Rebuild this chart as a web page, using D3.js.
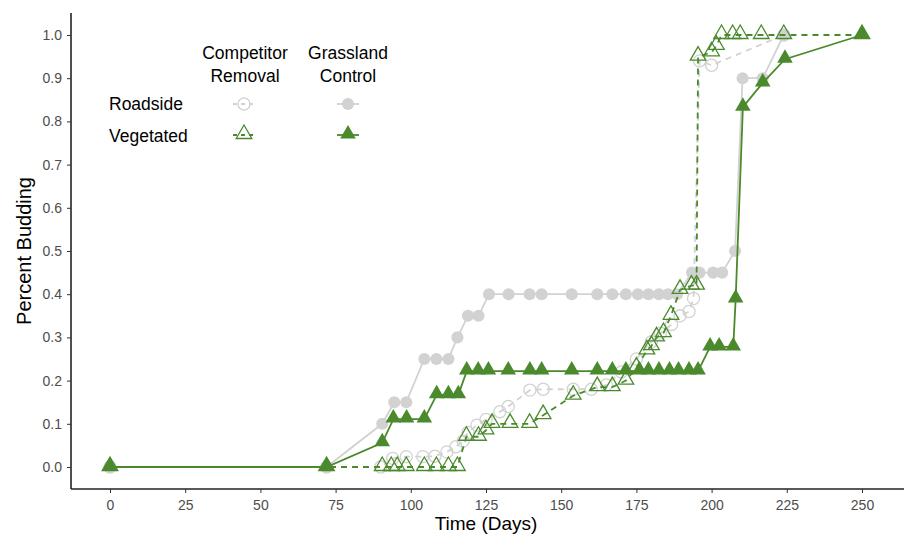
<!DOCTYPE html>
<html>
<head>
<meta charset="utf-8">
<script src="https://cdn.jsdelivr.net/npm/d3@7"></script>
<style>
  body { margin: 0; background: #fff; }
  text { font-family: "Liberation Sans", Arial, sans-serif; }
</style>
</head>
<body>
<svg id="chart" width="904" height="536" viewBox="0 0 904 536"></svg>
<script>
// days / percent budding
const roadsideRemovalDays = [0, 72, 90, 94, 98.5, 104, 108, 112, 115, 117.4, 119, 122, 125, 129.6, 132.4, 139.6, 144, 154, 160, 165, 170, 175, 180, 183, 186.7, 189.5, 192.5, 194, 196, 200, 224]
const roadsideRemovalVals = [0, 0, 0, 0.02, 0.024, 0.024, 0.025, 0.035, 0.047, 0.06, 0.08, 0.097, 0.11, 0.128, 0.14, 0.178, 0.18, 0.18, 0.18, 0.19, 0.22, 0.25, 0.29, 0.31, 0.33, 0.35, 0.36, 0.39, 0.94, 0.93, 1.0]

const roadsideControlDays = [0, 72, 90.5, 94.5, 98.5, 104.5, 108.5, 112.5, 115.5, 119, 122.5, 126, 132.5, 139.5, 143.5, 153.5, 162, 167, 171.5, 175.5, 179, 182.5, 185.5, 188.5, 193.5, 196, 200.5, 203.5, 207.8, 210.3, 217, 224]
const roadsideControlVals = [0, 0, 0.1, 0.15, 0.15, 0.25, 0.25, 0.25, 0.3, 0.35, 0.35, 0.4, 0.4, 0.4, 0.4, 0.4, 0.4, 0.4, 0.4, 0.4, 0.4, 0.4, 0.4, 0.4, 0.45, 0.45, 0.45, 0.45, 0.5, 0.9, 0.9, 1.0]

const vegetatedRemovalDays = [0, 72, 90.5, 93.5, 95.5, 98.5, 104.5, 108.5, 112.5, 115.5, 118.5, 122.5, 125, 127, 133, 139.5, 144, 154, 162, 167, 171.5, 175, 178.5, 180, 181.7, 184, 186.5, 189.5, 193.3, 195, 195.5, 200, 201.6, 203.3, 207, 209.5, 216.5, 224, 250]
const vegetatedRemovalVals = [0, 0, 0, 0, 0, 0, 0, 0, 0, 0, 0.07, 0.07, 0.085, 0.1, 0.1, 0.1, 0.12, 0.165, 0.185, 0.185, 0.2, 0.23, 0.27, 0.28, 0.3, 0.31, 0.35, 0.41, 0.42, 0.42, 0.95, 0.96, 0.975, 1.0, 1.0, 1.0, 1.0, 1.0, 1.0]

const vegetatedControlDays = [0, 72, 90.5, 94.2, 98.6, 104.5, 108.6, 112.5, 115.8, 118.6, 122.4, 125.8, 132.4, 139.6, 143.5, 153.5, 162, 167, 171.5, 176, 179, 182.5, 186, 189, 192.5, 195.5, 199.5, 202.5, 207.2, 208, 210.4, 217, 224.4, 250]
const vegetatedControlVals = [0, 0, 0.056, 0.111, 0.111, 0.111, 0.167, 0.167, 0.167, 0.222, 0.222, 0.222, 0.222, 0.222, 0.222, 0.222, 0.222, 0.222, 0.222, 0.222, 0.222, 0.222, 0.222, 0.222, 0.222, 0.222, 0.278, 0.278, 0.278, 0.389, 0.833, 0.889, 0.944, 1.0]

const xTicks = [0, 25, 50, 75, 100, 125, 150, 175, 200, 225, 250]
const yTicks = [0, 0.1, 0.2, 0.3, 0.4, 0.5, 0.6, 0.7, 0.8, 0.9, 1.0]

const gray = "#d2d2d2"
const green = "#4a8a2c"

const svg = d3.select("#chart")
const x = d3.scaleLinear().domain([0, 250]).range([110, 862])
const y = d3.scaleLinear().domain([0, 1]).range([467, 35])

const series = [
    {days: roadsideRemovalDays, vals: roadsideRemovalVals, color: gray, dash: "6,5", shape: "circle", filled: false},
    {days: roadsideControlDays, vals: roadsideControlVals, color: gray, dash: null, shape: "circle", filled: true},
    {days: vegetatedRemovalDays, vals: vegetatedRemovalVals, color: green, dash: "6,5", shape: "triangle", filled: false},
    {days: vegetatedControlDays, vals: vegetatedControlVals, color: green, dash: null, shape: "triangle", filled: true}
]

// axes
const xAxis = svg.append("g")
    .attr("transform", "translate(0,489)")
    .call(d3.axisBottom(x).tickValues(xTicks).tickSize(4).tickPadding(7))
xAxis.select(".domain").attr("d", "M71,0H904").attr("stroke", "#222").attr("stroke-width", 1.6)

const yAxis = svg.append("g")
    .attr("transform", "translate(71,0)")
    .call(d3.axisLeft(y).tickValues(yTicks).tickSize(4).tickPadding(5).tickFormat(d3.format(".1f")))
yAxis.select(".domain").attr("d", "M0,13V489").attr("stroke", "#222").attr("stroke-width", 1.6)

svg.selectAll(".tick line").attr("stroke", "#333").attr("stroke-width", 1)
svg.selectAll(".tick text").attr("fill", "#4d4d4d").style("font-size", "14px")

svg.append("text")
    .attr("x", x(125)).attr("y", 530)
    .attr("text-anchor", "middle")
    .style("font-size", "19px")
    .text("Time (Days)")

svg.append("text")
    .attr("transform", "translate(31,251) rotate(-90)")
    .attr("text-anchor", "middle")
    .style("font-size", "20px")
    .text("Percent Budding")

const triangle = d3.symbol().type(d3.symbolTriangle).size(105)
const circle = d3.symbol().type(d3.symbolCircle).size(115)

function drawMarker(g, s, cx, cy) {
    const path = g.append("path")
        .attr("transform", `translate(${cx},${cy + (s.shape === "triangle" ? -1 : 0)})`)
        .attr("d", s.shape === "triangle" ? triangle() : circle())
    if (s.filled) {
        path.attr("fill", s.color).attr("stroke", "none")
    } else {
        path.attr("fill", "none").attr("stroke", s.color).attr("stroke-width", 1.3)
    }
}

const line = d3.line().x(d => x(d[0])).y(d => y(d[1]))

series.forEach(s => {
    const pts = d3.zip(s.days, s.vals)
    const g = svg.append("g")
    g.append("path")
        .datum(pts)
        .attr("d", line)
        .attr("fill", "none")
        .attr("stroke", s.color)
        .attr("stroke-width", 1.8)
        .attr("stroke-dasharray", s.dash)
    pts.forEach(p => drawMarker(g, s, x(p[0]), y(p[1])))
})

// legend
const legend = svg.append("g")
legend.selectAll(".head")
    .data([["Competitor", "Removal", 245], ["Grassland", "Control", 348]])
    .enter()
    .append("text")
    .attr("x", d => d[2])
    .attr("y", 59)
    .attr("text-anchor", "middle")
    .style("font-size", "17.5px")
    .each(function (d) {
        d3.select(this).append("tspan").attr("x", d[2]).attr("dy", 0).text(d[0])
        d3.select(this).append("tspan").attr("x", d[2]).attr("dy", 23).text(d[1])
    })

legend.selectAll(".row")
    .data([["Roadside", 104], ["Vegetated", 136]])
    .enter()
    .append("text")
    .attr("x", 109)
    .attr("y", d => d[1] + 6)
    .style("font-size", "17.5px")
    .text(d => d[0])

const keyPos = [[244, 104], [348, 104], [244, 135], [348, 135]]
series.forEach((s, i) => {
    const [kx, ky] = keyPos[i]
    legend.append("line")
        .attr("x1", kx - 11).attr("x2", kx + 11)
        .attr("y1", ky).attr("y2", ky)
        .attr("stroke", s.color)
        .attr("stroke-width", 1.8)
        .attr("stroke-dasharray", s.dash ? "4,4" : null)
    drawMarker(legend, s, kx, ky)
})
</script>
</body>
</html>
